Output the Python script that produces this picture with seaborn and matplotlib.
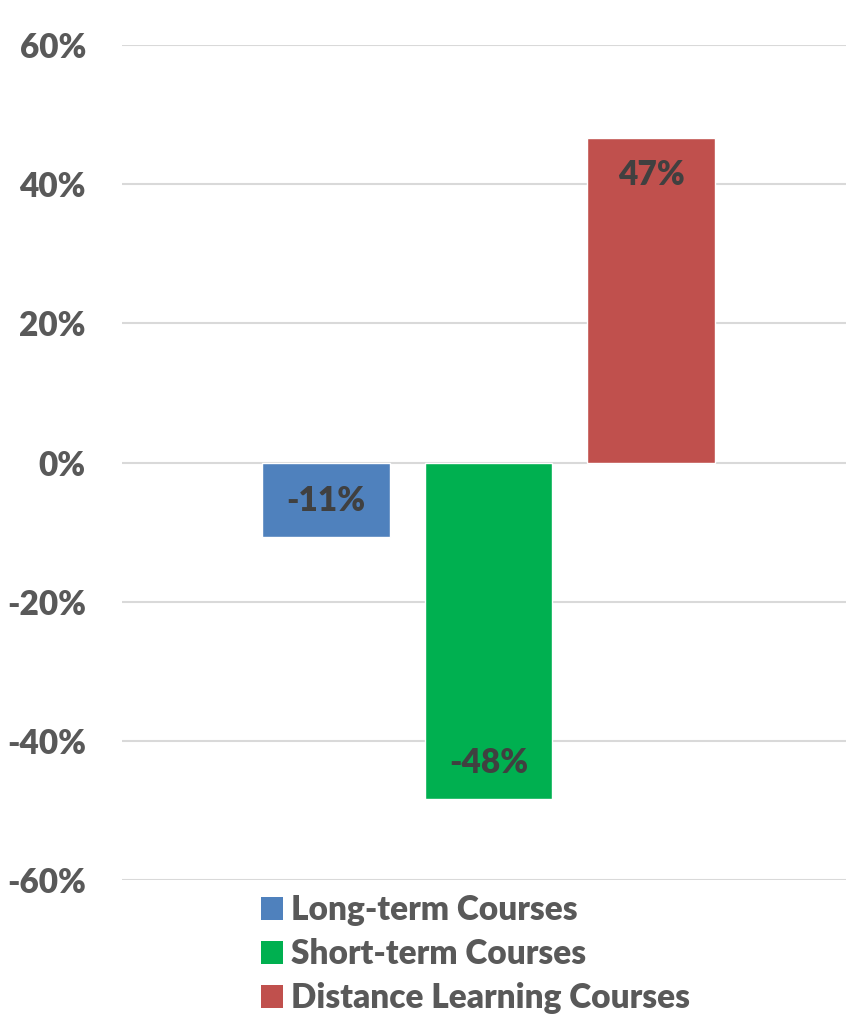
import matplotlib
matplotlib.use("Agg")
import matplotlib.pyplot as plt
import seaborn as sns
import pandas as pd
from matplotlib.patches import Patch

series = ["Long-term Courses", "Short-term Courses", "Distance Learning Courses"]
values = [-0.107, -0.484, 0.466]
value_labels = ["-11%", "-48%", "47%"]
colors = ["#4F81BD", "#00B050", "#C0504D"]
yticks = [-0.6, -0.4, -0.2, 0.0, 0.2, 0.4, 0.6]
ytick_labels = ["-60%", "-40%", "-20%", "0%", "20%", "40%", "60%"]

df = pd.DataFrame({"series": series, "value": values})

sns.set_theme(style="white")
plt.rcParams["font.family"] = ["Lato", "DejaVu Sans"]

W, H = 846, 1018
fig = plt.figure(figsize=(W / 100, H / 100), dpi=100)
ax = fig.add_axes([122 / W, 1 - 880 / H, (W - 122) / W, (880 - 45) / H])

sns.barplot(data=df, x="series", y="value", hue="series", palette=colors,
            width=0.785, legend=False, ax=ax, saturation=1)

ax.set_ylim(-0.6, 0.6)
ax.set_xlim((122 - 326) / 162.5, (846 - 326) / 162.5)
ax.set_yticks(yticks)
ax.set_yticklabels(ytick_labels, fontsize=24, fontweight="heavy", color="#595959")
ax.tick_params(axis="y", length=0, pad=26)
ax.set_xticks([])
ax.set_xlabel("")
ax.set_ylabel("")
ax.yaxis.grid(True, color="#D9D9D9", linewidth=1.5)
ax.set_axisbelow(True)
for s in ax.spines.values():
    s.set_visible(False)

for i, (v, lab) in enumerate(zip(values, value_labels)):
    off = -0.053 if v > 0 else 0.052
    ax.text(i, v + off, lab, ha="center", va="center", fontsize=24,
            fontweight="heavy", color="#404040")

handles = [Patch(facecolor=c, edgecolor="none") for c in colors]
leg = fig.legend(handles, series, loc="upper left",
                 bbox_to_anchor=(248 / W, 1 - 881 / H),
                 frameon=False, handlelength=0.66, handleheight=0.66,
                 handletextpad=0.24, labelspacing=0.36, borderaxespad=0,
                 prop={"weight": "heavy", "size": 24})
for t in leg.get_texts():
    t.set_color("#595959")

fig.savefig("out.png", dpi=100)
